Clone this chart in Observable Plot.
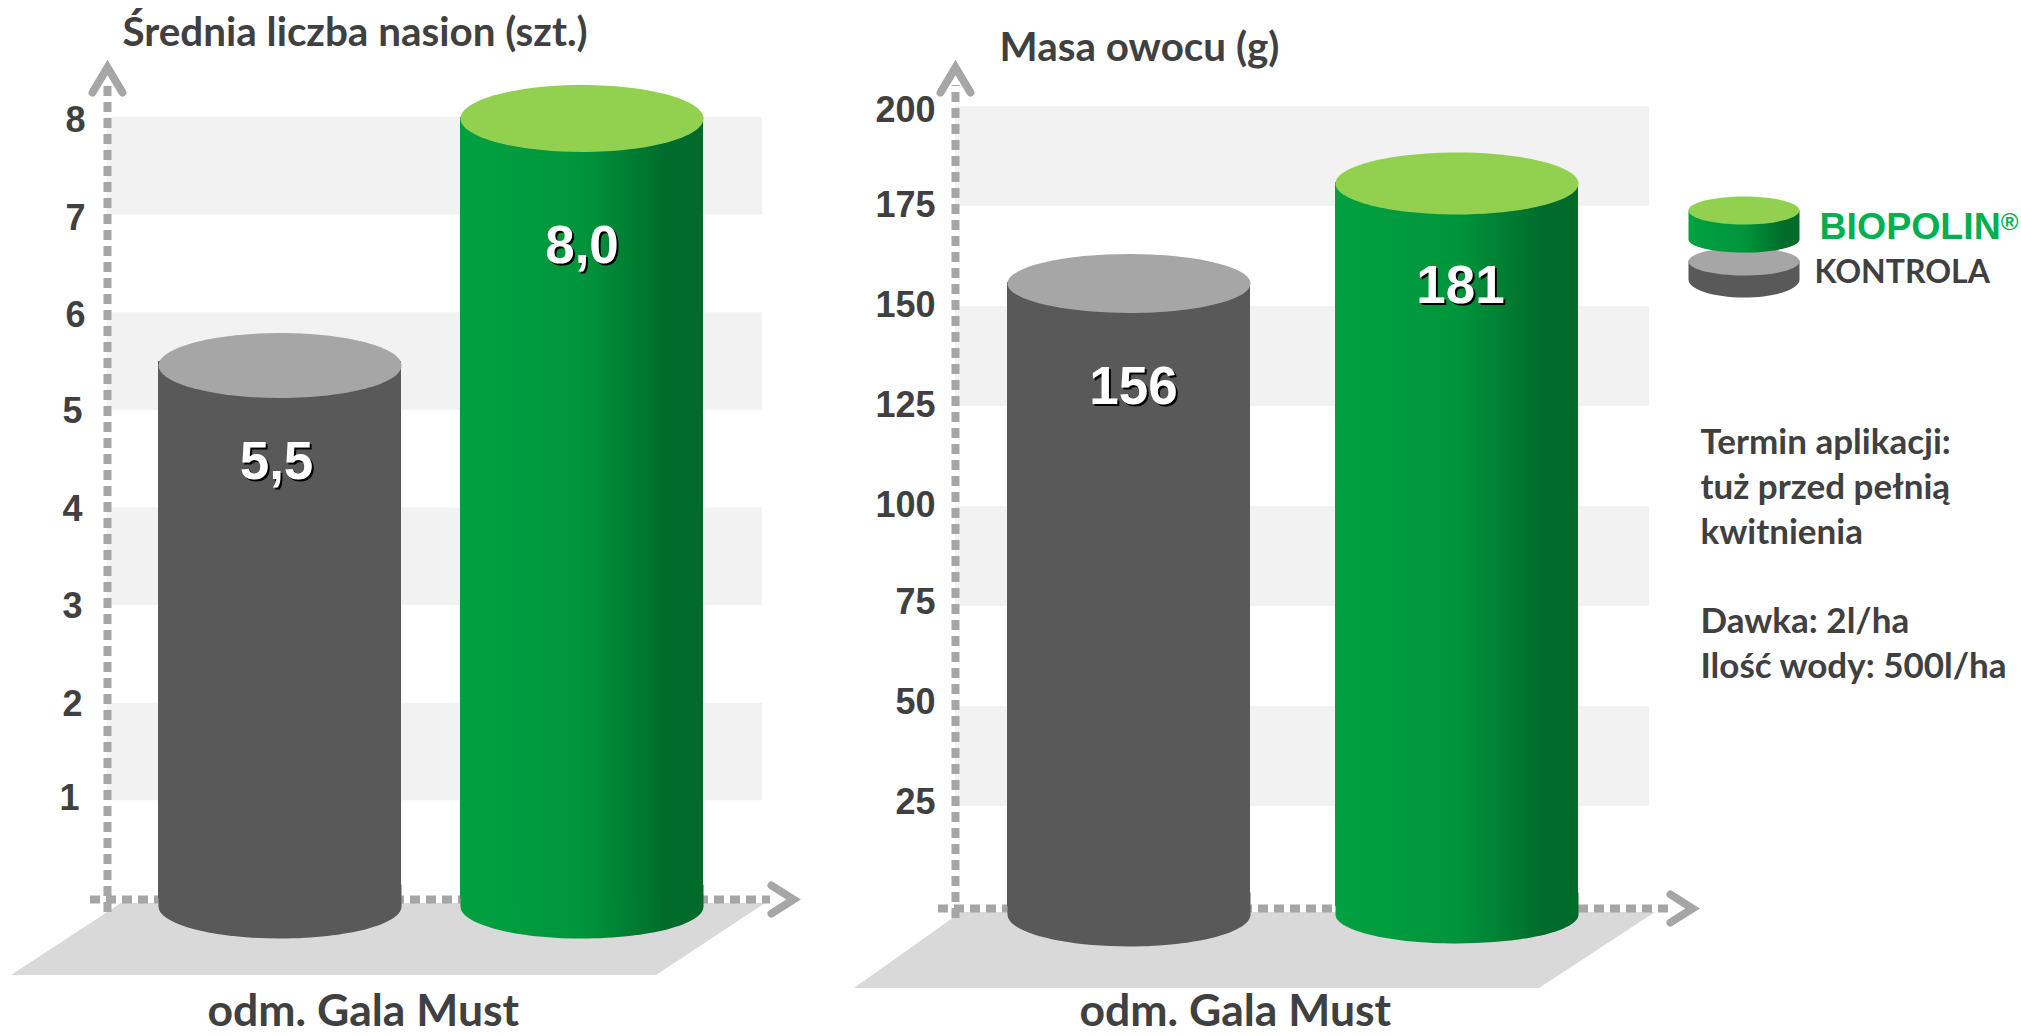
<!DOCTYPE html>
<html lang="pl">
<head>
<meta charset="utf-8">
<script src="https://cdn.jsdelivr.net/npm/d3@7"></script>
<script src="https://cdn.jsdelivr.net/npm/@observablehq/plot@0.6"></script>
<style>
  html, body { margin: 0; padding: 0; background: #fff; width: 2021px; height: 1036px; overflow: hidden; }
  #charts { display: flex; width: 2021px; height: 1036px; }
  #charts svg.plot { flex: none; }
</style>
</head>
<body>
<svg width="0" height="0" style="position:absolute">
  <defs>
    <linearGradient id="greenBody" x1="0" x2="1" y1="0" y2="0">
      <stop offset="0" stop-color="#00a140"/>
      <stop offset="0.5" stop-color="#00953c"/>
      <stop offset="0.85" stop-color="#006c2b"/>
      <stop offset="1" stop-color="#006a2a"/>
    </linearGradient>
  </defs>
</svg>
<div id="charts"></div>
<script>
// ---- data ----
const categories = ["KONTROLA", "BIOPOLIN"];
const seedCounts = [5.5, 8.0];
const seedLabels = ["5,5", "8,0"];
const fruitMass = [156, 181];
const fruitLabels = ["156", "181"];
const seedBandsFrom = [8, 6, 4, 2];
const seedBandsTo = [7, 5, 3, 1];
const massBandsFrom = [200, 150, 100, 50];
const massBandsTo = [175, 125, 75, 25];
const seedTicksTop = [8, 7, 6];
const seedTicksMid = [5, 4, 3, 2];
const seedTicksLow = [1];
const massTicksTop = [200];
const massTicksMid = [175, 150, 125, 100];
const massTicksLow = [75, 50, 25];
const seedTitle = "Średnia liczba nasion (szt.)";
const massTitle = "Masa owocu (g)";
const cultivar = "odm. Gala Must";
const legendTexts = ["BIOPOLIN®", "KONTROLA"];
const noteLines = ["Termin aplikacji:", "tuż przed pełnią", "kwitnienia", "Dawka: 2l/ha", "Ilość wody: 500l/ha"];

// ---- styling ----
const INK = "#404040", DASH = "#a6a6a6", FLOOR = "#d9d9d9", BAND = "#f2f2f2";
const BODY = ["#595959", "url(#greenBody)"], TOP = ["#a6a6a6", "#92d050"];
const ARIAL = "'Liberation Sans', Arial, sans-serif", CALIBRI = "Lato, sans-serif";

// ---- custom dot symbols ----
const K = 0.5523;
const ellipse = (rx, ry) => ({draw(c) {
  c.moveTo(-rx, 0);
  c.bezierCurveTo(-rx, -K * ry, -K * rx, -ry, 0, -ry);
  c.bezierCurveTo(K * rx, -ry, rx, -K * ry, rx, 0);
  c.bezierCurveTo(rx, K * ry, K * rx, ry, 0, ry);
  c.bezierCurveTo(-K * rx, ry, -rx, K * ry, -rx, 0);
  c.closePath();
}});
// flat-topped block whose lower edge is a half ellipse
const cap = (rx, top, side, bottom) => ({draw(c) {
  const ry = bottom - side;
  c.moveTo(-rx, top);
  c.lineTo(rx, top);
  c.lineTo(rx, side);
  c.bezierCurveTo(rx, side + K * ry, K * rx, bottom, 0, bottom);
  c.bezierCurveTo(-K * rx, bottom, -rx, side + K * ry, -rx, side);
  c.closePath();
}});
const chevronUp = {draw(c) { c.moveTo(-15, 25); c.lineTo(0, 0); c.lineTo(15, 25); }};
const chevronRight = {draw(c) { c.moveTo(-30, -14); c.lineTo(-8, 0); c.lineTo(-30, 14); }};

function chart(o) {
  const u = px => 1 + (px - o.offset - o.xRange[0]) / (o.xRange[1] - o.xRange[0]);
  const v = px => o.yDomain[0] + (px - o.yRange[0]) / (o.yRange[1] - o.yRange[0]) * (o.yDomain[1] - o.yDomain[0]);
  const rows = categories.map((name, i) => ({name, pos: i + 1, value: o.values[i], label: o.labels[i]}));
  const bands = o.from.map((f, i) => ({from: f, to: o.to[i]}));
  const hw = o.half / (o.xRange[1] - o.xRange[0]);
  const frameText = (t, px, py, opts) => Plot.text([t], {
    frameAnchor: "top-left", dx: px - o.axisX, dy: py, text: d => d, textAnchor: "start", lineAnchor: "middle",
    fill: INK, fontFamily: CALIBRI, fontWeight: 700, ...opts
  });
  const floor = [
    {y: v(o.floor.top), x1: u(o.floor.tl), x2: u(o.floor.tr)},
    {y: v(o.floor.bottom), x1: u(o.floor.bl), x2: u(o.floor.br)}
  ];
  return Plot.plot({
    width: o.width, height: 1036,
    marginTop: 0, marginBottom: 0, marginRight: 0, marginLeft: o.axisX - o.offset,
    style: {background: "transparent"},
    x: {type: "linear", domain: [1, 2], range: o.xRange, axis: null},
    y: {type: "linear", domain: o.yDomain, range: o.yRange, axis: null},
    marks: [
      // floor
      Plot.areaX(floor, {x1: "x1", x2: "x2", y: "y", fill: FLOOR}),
      // background bands
      Plot.rect(bands, {x1: u(o.axisX), x2: u(o.bandRight), y1: "from", y2: "to", fill: BAND}),
      // dotted axes
      Plot.ruleX([u(o.axisX)], {y1: v(o.yAxisEnd), y2: v(o.yAxisStart), stroke: DASH, strokeWidth: 8, strokeDasharray: "10 6"}),
      Plot.ruleY([o.yDomain[0]], {x1: u(o.xAxisStart), x2: u(o.xAxisEnd), dy: o.xAxisDy, stroke: DASH, strokeWidth: 8, strokeDasharray: "10 6"}),
      Plot.dot([0], {x: u(o.axisX), y: v(67), symbol: chevronUp, fill: "none", stroke: DASH, strokeWidth: 8, strokeLinecap: "round"}),
      Plot.dot([0], {x: u(o.xTip), y: o.yDomain[0], dy: o.xAxisDy, symbol: chevronRight, fill: "none", stroke: DASH, strokeWidth: 8, strokeLinecap: "round"}),
      // tick labels
      ...o.ticks.map(t => Plot.axisY(t.values, {
        anchor: "left", tickSize: 0, tickPadding: t.pad, label: null, dy: t.dy, tickFormat: d => `${d}`,
        fontSize: 36, fontFamily: ARIAL, fontWeight: 700, fill: INK
      })),
      // cylinders
      ...rows.map((d, i) => Plot.dot([d], {x: "pos", y: () => o.yDomain[0], symbol: cap(o.half, -14, 8, o.bottoms[i]), fill: BODY[i]})),
      ...rows.map((d, i) => Plot.rect([d], {x1: d.pos - hw, x2: d.pos + hw, y1: () => o.yDomain[0], y2: "value", fill: BODY[i]})),
      ...rows.map((d, i) => Plot.dot([d], {x: "pos", y: "value", dy: o.capDy[i], symbol: ellipse(o.half, o.capRy[i]), fill: TOP[i]})),
      // value labels with hard shadow
      ...rows.flatMap((d, i) => [
        Plot.text([d], {x: "pos", y: "value", text: "label", dx: o.labelDx[i] + 2, dy: o.labelDy[i] + 2, fill: "#000", fontSize: 53, fontWeight: 700, fontFamily: ARIAL}),
        Plot.text([d], {x: "pos", y: "value", text: "label", dx: o.labelDx[i], dy: o.labelDy[i], fill: "#fff", fontSize: 53, fontWeight: 700, fontFamily: ARIAL})
      ]),
      // titles
      frameText(o.title, o.titleX, o.titleY, {fontSize: o.titleSize}),
      frameText(cultivar, o.catX, o.catY, {fontSize: 44.5}),
      ...(o.extra ? o.extra(frameText, o) : [])
    ]
  });
}

function sideMarks(frameText, o) {
  const at = (px) => px - o.axisX;
  const disc = (sym, px, py, fill) => Plot.dot([0], {frameAnchor: "top-left", dx: at(px), dy: py, symbol: sym, fill});
  return [
    disc(cap(55.5, 0, 19, 37), 1743.5, 260, BODY[0]),
    disc(ellipse(55.5, 14), 1743.5, 261, TOP[0]),
    disc(cap(55.5, 0, 29, 42), 1743.5, 210, BODY[1]),
    disc(ellipse(55.5, 14), 1743.5, 210, TOP[1]),
    frameText(legendTexts[0], 1819, 226, {fontFamily: ARIAL, fontSize: 37.5, fill: "#00b050"}),
    frameText(legendTexts[1], 1814, 272, {fontSize: 32}),
    frameText(noteLines[0], 1700, 442, {fontSize: 35}),
    frameText(noteLines[1], 1700, 487, {fontSize: 35}),
    frameText(noteLines[2], 1700, 532, {fontSize: 35}),
    frameText(noteLines[3], 1700, 621, {fontSize: 35}),
    frameText(noteLines[4], 1700, 666, {fontSize: 35})
  ];
}

const left = chart({
  width: 830, offset: 0, axisX: 107,
  values: seedCounts, labels: seedLabels, from: seedBandsFrom, to: seedBandsTo,
  xRange: [279.5, 581.5], yDomain: [0, 8], yRange: [898, 117], half: 121.5,
  bandRight: 762, yAxisStart: 85, yAxisEnd: 912, xAxisStart: 90, xAxisEnd: 770, xAxisDy: 1, xTip: 801,
  floor: {top: 903, bottom: 975, tl: 121, tr: 765, bl: 11, br: 656},
  ticks: [{values: seedTicksTop, pad: 22, dy: 3}, {values: seedTicksMid, pad: 25, dy: 1}, {values: seedTicksLow, pad: 28, dy: -2}],
  bottoms: [40, 40], capDy: [4, 1], capRy: [32.5, 33.5],
  labelDx: [-3.5, 0], labelDy: [100, 129],
  title: seedTitle, titleX: 122, titleY: 33, titleSize: 40.4, catX: 207, catY: 1011
});
const right = chart({
  width: 1191, offset: 830, axisX: 955,
  values: fruitMass, labels: fruitLabels, from: massBandsFrom, to: massBandsTo,
  xRange: [298.5, 626.5], yDomain: [0, 200], yRange: [906, 106], half: 121.5,
  bandRight: 1649, yAxisStart: 85, yAxisEnd: 918, xAxisStart: 938, xAxisEnd: 1668, xAxisDy: 2, xTip: 1700,
  floor: {top: 912, bottom: 988, tl: 961, tr: 1655, bl: 854, br: 1539},
  ticks: [{values: massTicksTop, pad: 20, dy: 4}, {values: massTicksMid, pad: 20, dy: -1}, {values: massTicksLow, pad: 20, dy: -4}],
  bottoms: [40, 37], capDy: [1, 1], capRy: [29.5, 31],
  labelDx: [4.5, 3.5], labelDy: [105, 104],
  title: massTitle, titleX: 999, titleY: 48, titleSize: 40.4, catX: 1079, catY: 1011,
  extra: sideMarks
});
const host = document.getElementById("charts");
host.append(left, right);

// smaller raised registered mark inside the legend text
right.querySelectorAll("text").forEach(t => {
  if (t.textContent === legendTexts[0]) {
    t.textContent = "BIOPOLIN";
    const s = document.createElementNS("http://www.w3.org/2000/svg", "tspan");
    s.textContent = "®";
    s.setAttribute("font-size", "24");
    s.setAttribute("dy", "-9");
    t.appendChild(s);
  }
});
</script>
</body>
</html>
